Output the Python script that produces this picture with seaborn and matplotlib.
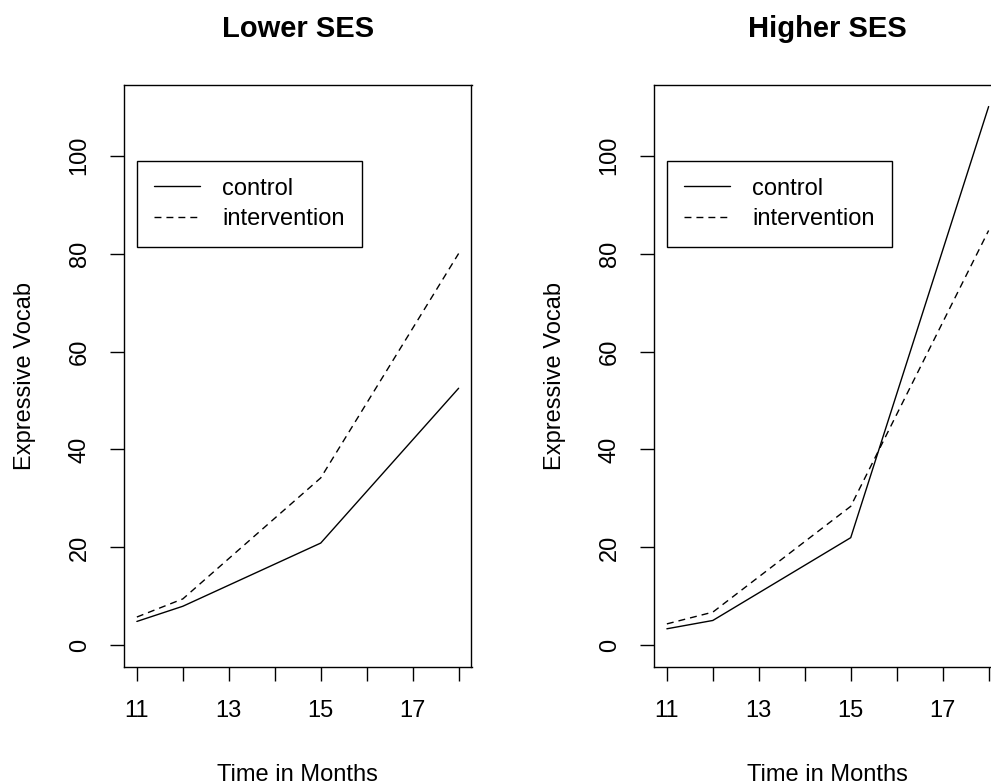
import pandas as pd
import matplotlib
matplotlib.use("Agg")
import matplotlib.pyplot as plt
import seaborn as sns

# values
months = [11, 12, 15, 18]
groups = ["control", "intervention"]
lower_control = [4.9, 8.0, 20.9, 52.5]
lower_intervention = [5.8, 9.5, 34.2, 80.0]
higher_control = [3.4, 5.1, 22.0, 110.0]
higher_intervention = [4.4, 6.8, 28.4, 84.7]
panel_titles = ["Lower SES", "Higher SES"]
x_ticks = [11, 12, 13, 14, 15, 16, 17, 18]
x_tick_labels = ["11", "", "13", "", "15", "", "17", ""]
y_ticks = [0, 20, 40, 60, 80, 100]


def make_df(control, intervention):
    return pd.DataFrame({
        "month": months * 2,
        "vocab": control + intervention,
        "group": ["control"] * len(months) + ["intervention"] * len(months),
    })


panels = [make_df(lower_control, lower_intervention),
          make_df(higher_control, higher_intervention)]

sns.set_style("white")
plt.rcParams["font.family"] = ["Liberation Sans", "DejaVu Sans"]
plt.rcParams["text.color"] = "black"
plt.rcParams["axes.labelcolor"] = "black"
plt.rcParams["xtick.color"] = "black"
plt.rcParams["ytick.color"] = "black"

fig = plt.figure(figsize=(9.91, 7.84), dpi=100)
W, H = 991, 784
ax_w, ax_h = 347.5, 582
lefts = [124, 654]
top = 85

for left, df, title in zip(lefts, panels, panel_titles):
    ax = fig.add_axes([left / W, (H - top - ax_h) / H, ax_w / W, ax_h / H])
    sns.lineplot(data=df, x="month", y="vocab", style="group", color="black",
                 dashes={"control": "", "intervention": (5, 3.6)},
                 linewidth=1.0, legend=False, ax=ax)
    ax.set_xlim(10.72, 18.28)
    ax.set_ylim(-4.4, 114.4)
    ax.set_xticks(x_ticks)
    ax.set_xticklabels(x_tick_labels)
    ax.set_yticks(y_ticks)
    ax.tick_params(axis="both", which="both", direction="out", length=10,
                   width=1, color="black", labelsize=17, pad=14, bottom=True, left=True)
    ax.tick_params(axis="y", labelrotation=90)
    for lab in ax.get_yticklabels():
        lab.set_va("center")
    for s in ax.spines.values():
        s.set_color("black")
        s.set_linewidth(1.0)
    ax.set_title(title, fontsize=21, fontweight="bold", y=1.068, color="black")
    ax.set_xlabel("Time in Months", fontsize=17)
    ax.set_ylabel("Expressive Vocab", fontsize=17)
    ax.xaxis.set_label_coords(0.5, -0.167)
    ax.yaxis.set_label_coords(-0.252, 0.5)
    leg = ax.legend(ax.lines[:2], groups, loc="upper left",
                    bbox_to_anchor=(0.037, 0.87), borderaxespad=0,
                    fontsize=17, frameon=True, fancybox=False,
                    edgecolor="black", framealpha=1, handlelength=1.95,
                    handletextpad=0.95, labelspacing=0.35, borderpad=0.72)
    leg.get_frame().set_linewidth(1.0)

fig.savefig("out.png", dpi=100)
